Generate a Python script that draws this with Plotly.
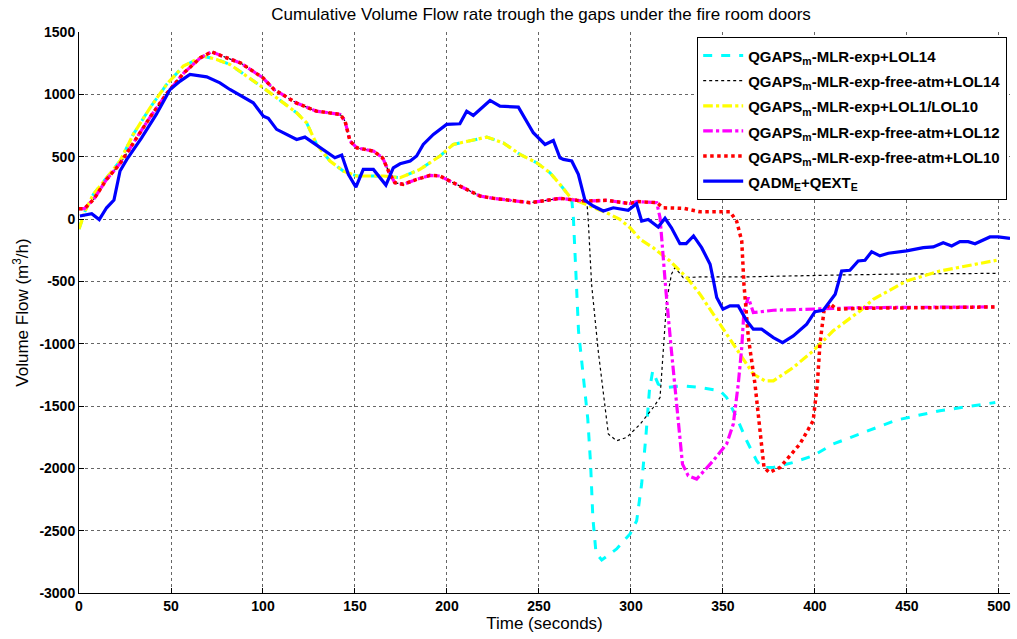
import plotly.graph_objects as go

# ---------------- data ----------------
# shared early part of the "free-atm" runs (red / magenta / black)
t_free = [0, 3, 8, 15, 22, 30, 39, 48, 57, 66, 72, 78, 88, 100, 106, 118, 129, 142, 144.6, 147.3, 151,
          160, 165, 169, 171.7, 176.3, 183.5, 190.8, 196.2, 201.6, 210.7, 218, 225.2, 234.2, 245.1,
          254.2, 261.4, 270.6, 276]
v_free = [83, 83, 158, 318, 438, 625, 825, 1012, 1172, 1293, 1341, 1306, 1250, 1132, 1039, 932, 865, 839, 785, 625, 571,
          545, 491, 358, 291, 278, 318, 350, 345, 304, 238, 184, 166, 150, 131,
          150, 166, 150, 144]

# shared early part of the "exp" runs (yellow / cyan)
t_exp = [0, 3.3, 7.8, 15, 22.3, 29.5, 38.6, 47.6, 56.7, 67.6, 74.8, 82, 100.2, 118.3, 123.7, 129.2, 136.4,
         143.6, 150.9, 165.4, 174.5, 185.3, 196.2, 203.4, 212.5, 221.6, 230.6, 239.7, 248.8, 256, 261.4, 267.8]
v_exp = [-80, 64, 198, 331, 465, 679, 892, 1079, 1226, 1306, 1280, 1240, 1052, 852, 772, 598, 465,
         385, 345, 345, 331, 398, 505, 598, 625, 657, 611, 518, 451, 371, 278, 160]

# cyan: QGAPSm-MLR-exp+LOL14 (after the shared part)
t_cyan_tail = [268.7, 270, 271.5, 274, 276.5, 278, 279.3, 281, 284.1, 292.2, 299.5, 303.1, 305.8, 308.2, 310,
               311.8, 314.8, 319.4, 328.4, 337.5, 348.4, 352, 357.4, 362.9, 368.3, 371, 377.4, 388.2, 399,
               409.9, 424.5, 444.2, 467.9, 498]
v_cyan_tail = [10, -400, -900, -1250, -1600, -1950, -2400, -2680, -2735, -2647, -2526, -2420, -2126, -1725, -1378,
               -1218, -1325, -1352, -1338, -1352, -1378, -1432, -1592, -1779, -1939, -1993, -1993, -1953, -1899,
               -1805, -1725, -1613, -1538, -1472]

# black: QGAPSm-MLR-exp-free-atm+LOL14
t_black_tail = [276.8, 278.6, 282.2, 285.9, 287.7, 292.2, 297.7, 305, 312.1, 315.8, 317.6, 319.4, 322,
                323.9, 328.4, 337.5, 360, 395, 413.6, 449.8, 498.7]
v_black_tail = [-16, -524, -1058, -1538, -1725, -1779, -1752, -1645, -1512, -1432, -1058, -657, -443,
                -390, -470, -465, -465, -452, -449, -441, -436]

# yellow: QGAPSm-MLR-exp+LOL1/LOL10
t_yellow_tail = [271, 286.8, 294, 299.5, 305, 312, 321.2, 330.3, 337.5, 344.7, 352, 359.2, 366.5, 372.8,
                 377.4, 388.2, 399, 409.9, 424.5, 431.7, 449.8, 467.9, 486, 498.7]
v_yellow_tail = [144, 50, -3, -70, -163, -230, -337, -470, -603, -764, -924, -1084, -1244, -1298,
                 -1298, -1191, -1058, -897, -737, -644, -497, -417, -363, -331]

# free-atm part shared by magenta and red up to t~314
t_free_mid = [286.8, 299.5, 303, 314]
v_free_mid = [150, 123, 140, 131]

# magenta: QGAPSm-MLR-exp-free-atm+LOL12
t_mag_tail = [315.8, 317.2, 319, 322, 324.8, 328, 331.1, 335.7, 344.7, 352, 355.6, 358.3, 360.2, 361.4,
              363.8, 366.5, 377.4, 395.5, 424.5, 460, 498.7]
v_mag_tail = [10, -256, -577, -1058, -1485, -1966, -2059, -2086, -1939, -1805, -1645, -1325, -1031, -737,
              -630, -751, -732, -724, -711, -708, -705]

# red: QGAPSm-MLR-exp-free-atm+LOL10
t_red_tail = [317.5, 328.4, 337.5, 353.8, 357.4, 360.2, 361.4, 363.8, 367.4, 370.1, 372.3, 375.2, 381,
              391.8, 399, 401.3, 402.7, 404.9, 408.2, 411.8, 424.5, 460, 498.7]
v_red_tail = [90, 86, 58, 58, -16, -176, -524, -951, -1325, -1725, -1993, -2033, -1993,
              -1805, -1619, -1325, -1004, -737, -679, -725, -716, -712, -705]

# blue: QADM_E + QEXT_E
t_blue = [0.5, 6.9, 11, 15, 19, 22.3, 26, 34, 42, 49.5, 55, 60.3, 69.4, 76.6, 82, 88.4, 94.7, 100.2, 102.9,
          107.4, 114.7, 118.3, 122.8, 131, 139.1, 142.8, 146.4, 150.5, 154.5, 160, 163.6, 166.8, 170.8,
          174.5, 180, 183.5, 187.1, 192.6, 199.8, 207, 210.7, 214.3, 223.4, 228.8, 238.8, 246.9, 253.3,
          257.8, 261.4, 263.3, 267.8, 271.4, 275, 279.5, 285, 290.4, 298.5, 303, 305.8, 309.4, 314.8,
          318.5, 322, 326.6, 330, 334, 338.4, 343, 344.7, 346.6, 350, 353.8, 358.3, 362.9, 366.5, 371,
          377.4, 382.4, 388.2, 395.5, 400, 404.5, 411, 414.5, 419, 423.5, 427.2, 430.8, 435.3, 439.9,
          449.8, 458.9, 464.3, 469.7, 474.3, 478.8, 483.3, 487, 495.1, 499.6, 506]
v_blue = [24, 42, -5, 90, 152, 385, 478, 651, 839, 1039, 1106, 1159, 1140, 1092, 1039, 986, 932, 825, 807,
          719, 665, 638, 657, 571, 491, 513, 358, 256, 398, 398, 331, 272, 411,
          443, 465, 505, 598, 679, 759, 764, 865, 831, 951, 905, 897, 692, 598,
          630, 491, 478, 465, 358, 150, 104, 64, 90, 70, 123, -16, -3, -64,
          6, -70, -198, -198, -136, -230, -363, -484, -630, -724, -697, -697, -817, -884, -884,
          -951, -991, -938, -844, -743, -732, -604, -417, -411, -337, -331, -262, -296, -275,
          -256, -230, -224, -190, -216, -182, -182, -198, -144, -144, -155]

series_names = [
    "QGAPS<sub>m</sub>-MLR-exp+LOL14",
    "QGAPS<sub>m</sub>-MLR-exp-free-atm+LOL14",
    "QGAPS<sub>m</sub>-MLR-exp+LOL1/LOL10",
    "QGAPS<sub>m</sub>-MLR-exp-free-atm+LOL12",
    "QGAPS<sub>m</sub>-MLR-exp-free-atm+LOL10",
    "QADM<sub>E</sub>+QEXT<sub>E</sub>",
]
x_ticks = [0, 50, 100, 150, 200, 250, 300, 350, 400, 450, 500]
x_tick_text = ["0", "50", "100", "150", "200", "250", "300", "350", "400", "450", "500"]
y_ticks = [1500, 1000, 500, 0, -500, -1000, -1500, -2000, -2500, -3000]
y_tick_text = ["1500", "1000", "500", "0", "-500", "-1000", "-1500", "-2000", "-2500", "-3000"]

# ---------------- assemble series ----------------
x_cyan = t_exp + t_cyan_tail
y_cyan = v_exp + v_cyan_tail
x_yel = t_exp + t_yellow_tail
y_yel = v_exp + v_yellow_tail
x_blk = t_free + t_black_tail
y_blk = v_free + v_black_tail
x_mag = t_free + t_free_mid + t_mag_tail
y_mag = v_free + v_free_mid + v_mag_tail
x_red = t_free + t_free_mid + t_red_tail
y_red = v_free + v_free_mid + v_red_tail

fig = go.Figure()
styles = [
    (x_cyan, y_cyan, "#00FFFF", "dash", 3),
    (x_blk, y_blk, "#000000", "dot", 1.2),
    (x_yel, y_yel, "#FFFF00", "dashdot", 3.2),
    (x_mag, y_mag, "#FF00FF", "dashdot", 3.2),
    (x_red, y_red, "#FF0000", "dot", 3.5),
    (t_blue, v_blue, "#0000FF", "solid", 3.2),
]
for (xs, ys, col, dash, w), name in zip(styles, series_names):
    fig.add_trace(go.Scatter(x=xs, y=ys, mode="lines",
                             name='<span style="font-size:15px"><b>' + name + '</b></span>',
                             line=dict(color=col, dash=dash, width=w)))

FONT = "Liberation Sans, Arial, sans-serif"
fig.update_layout(
    width=1017, height=639, autosize=False,
    margin=dict(l=79, r=7, t=32, b=46),
    paper_bgcolor="white", plot_bgcolor="white",
    font=dict(family=FONT, color="black"),
    title=dict(text="Cumulative Volume Flow rate trough the gaps under the fire room doors",
               x=0.532, xanchor="center", y=0.978, yanchor="middle",
               font=dict(size=17, family=FONT, color="black")),
    xaxis=dict(range=[0, 506], tickvals=x_ticks, ticktext=x_tick_text, showgrid=True, gridcolor="#666666",
               griddash="dot", gridwidth=1, showline=True, linecolor="black", linewidth=1,
               ticks="inside", ticklen=5, tickcolor="black", zeroline=False,
               tickfont=dict(size=14, weight="bold", family=FONT),
               title=dict(text="Time (seconds)", font=dict(size=17, family=FONT), standoff=3)),
    yaxis=dict(range=[-3000, 1500], tickvals=y_ticks, ticktext=y_tick_text, showgrid=True, gridcolor="#666666",
               griddash="dot", gridwidth=1, showline=True, linecolor="black", linewidth=1,
               ticks="inside", ticklen=5, tickcolor="black", zeroline=False,
               tickfont=dict(size=14, weight="bold", family=FONT),
               title=dict(text="Volume Flow (m<sup>3</sup>/h)", font=dict(size=17, family=FONT), standoff=6)),
    legend=dict(x=0.664, y=0.991, xanchor="left", yanchor="top",
                bgcolor="white", bordercolor="black", borderwidth=1,
                font=dict(size=17, family=FONT, color="black"), itemwidth=40,
                tracegroupgap=0),
    showlegend=True,
)

fig.write_html("out.html")
